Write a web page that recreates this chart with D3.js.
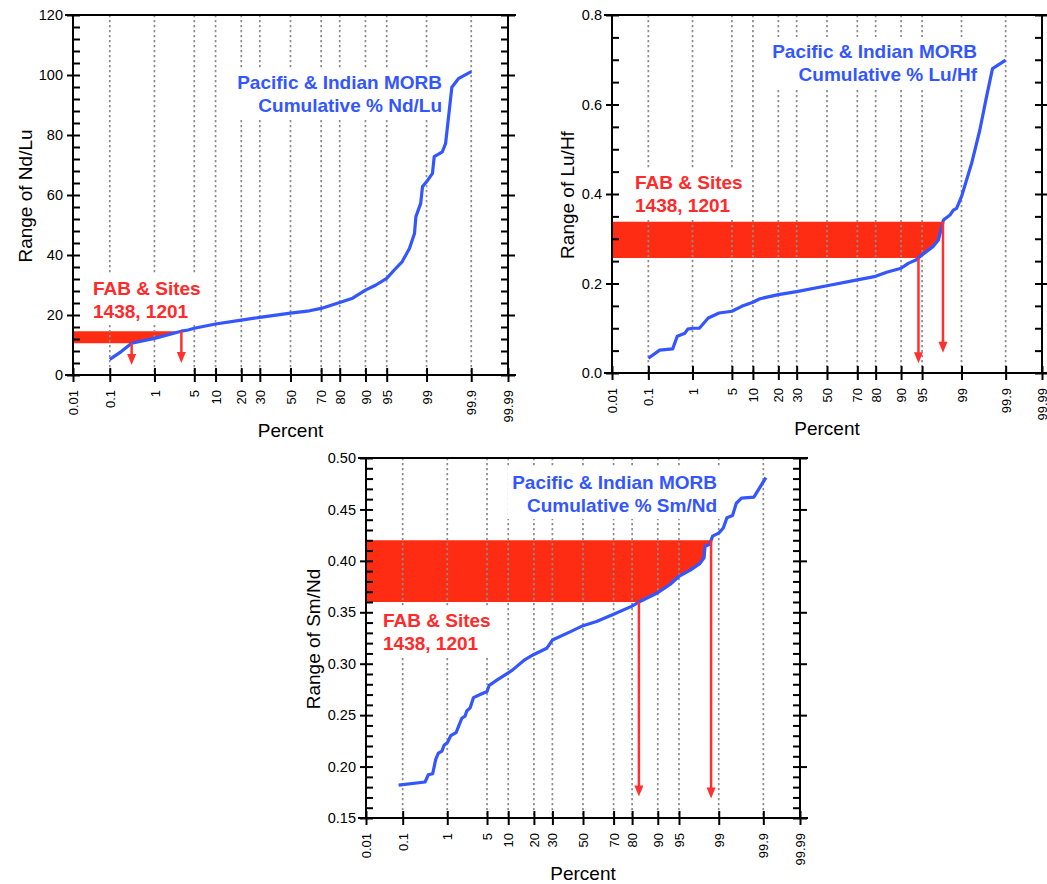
<!DOCTYPE html>
<html lang="en">
<head>
<meta charset="UTF-8">
<title>MORB cumulative probability plots</title>
<script src="https://d3js.org/d3.v7.min.js"></script>
<style>
  body { margin: 0; background: #fff; }
  svg text { font-family: "Liberation Sans", Arial, Helvetica, sans-serif; }
</style>
</head>
<body>
<svg width="1047" height="884"></svg>
<script>
// probability axis ticks (percent)
const percentTicks = [0.01, 0.1, 1, 5, 10, 20, 30, 50, 70, 80, 90, 95, 99, 99.9, 99.99];
const gridPercents = [0.1, 1, 5, 10, 20, 30, 50, 70, 80, 90, 95, 99, 99.9];

// Nd/Lu cumulative curve
const ndluPct = [0.1, 0.19, 0.33, 1, 3.1, 4, 5, 10, 20, 30, 50, 62.7, 70, 80, 85.6, 90, 92.8, 95, 96.2, 97.2,
                 97.9, 98.3, 98.4, 98.7, 98.8, 99, 99.24, 99.3, 99.53, 99.6, 99.71, 99.8, 99.9];
const ndluVal = [5.2, 7.8, 10.6, 12.2, 14.6, 15, 15.6, 17, 18.3, 19.2, 20.6, 21.4, 22.2, 24.2, 25.6, 28.3, 30, 32.2, 35, 37.8,
                 42.2, 47.2, 52.8, 57.2, 62.8, 64.4, 67.2, 72.8, 74.4, 77.2, 95.9, 98.9, 101.1];
const ndluBand = [10.6, 14.6];
const ndluArrowEnd = [3.3, 4.0];

// Lu/Hf cumulative curve
const luhfPct = [0.1, 0.19, 0.38, 0.48, 0.7, 0.8, 1, 1.36, 2, 3.1, 5, 7, 10, 12.3, 20, 30, 50, 70, 80, 84.9,
                 90, 92, 93.9, 95, 96.7, 97.3, 97.8, 98.33, 98.56, 98.75, 99, 99.38, 99.59, 99.71, 99.79, 99.9];
const luhfVal = [0.033, 0.051, 0.054, 0.082, 0.089, 0.098, 0.100, 0.100, 0.123, 0.134, 0.138, 0.149, 0.158, 0.166, 0.175, 0.182, 0.195, 0.208, 0.216, 0.225,
                 0.234, 0.245, 0.253, 0.264, 0.283, 0.297, 0.342, 0.353, 0.364, 0.368, 0.394, 0.468, 0.543, 0.617, 0.680, 0.699];
const luhfBand = [0.257, 0.338];
const luhfArrowEnd = [0.022, 0.045];

// Sm/Nd cumulative curve
const smndPct = [0.079, 0.34, 0.40, 0.50, 0.58, 0.66, 0.78, 0.87, 1, 1.17, 1.48, 1.89, 2.16, 2.32, 2.65, 3.02, 3.9, 5, 5.4, 7,
                 10, 11.4, 16, 20, 26.7, 30, 41.2, 50, 59.2, 70, 80, 83.1, 90, 93.2, 95, 96.7, 97.7, 98.1, 98.17, 98.5,
                 98.68, 99, 99.19, 99.32, 99.48, 99.57, 99.67, 99.83, 99.914];
const smndVal = [0.182, 0.185, 0.192, 0.193, 0.207, 0.213, 0.215, 0.221, 0.223, 0.230, 0.233, 0.247, 0.249, 0.254, 0.257, 0.267, 0.270, 0.273, 0.279, 0.284,
                 0.291, 0.294, 0.304, 0.309, 0.315, 0.323, 0.331, 0.337, 0.341, 0.348, 0.356, 0.360, 0.369, 0.377, 0.385, 0.391, 0.397, 0.403, 0.414, 0.416,
                 0.424, 0.427, 0.432, 0.442, 0.444, 0.456, 0.461, 0.462, 0.481];
const smndBand = [0.36, 0.42];
const smndArrowEnd = [0.171, 0.169];

const morbLine = "Pacific & Indian MORB";
const fabLines = ["FAB & Sites", "1438, 1201"];

const BLUE = "#3356ff", RED = "#ff2c14", ARROW = "#ff3030";

// inverse normal CDF (Acklam)
function probit(p) {
  const a = [-3.969683028665376e+01, 2.209460984245205e+02, -2.759285104469687e+02, 1.383577518672690e+02, -3.066479806614716e+01, 2.506628277459239e+00];
  const b = [-5.447609879822406e+01, 1.615858368580409e+02, -1.556989798598866e+02, 6.680131188771972e+01, -1.328068155288572e+01];
  const c = [-7.784894002430293e-03, -3.223964580411365e-01, -2.400758277161838e+00, -2.549732539343734e+00, 4.374664141464968e+00, 2.938163982698783e+00];
  const d = [7.784695709041462e-03, 3.224671290700398e-01, 2.445134137142996e+00, 3.754408661907416e+00];
  const pl = 0.02425;
  let q, r;
  if (p < pl) {
    q = Math.sqrt(-2 * Math.log(p));
    return (((((c[0]*q+c[1])*q+c[2])*q+c[3])*q+c[4])*q+c[5]) / ((((d[0]*q+d[1])*q+d[2])*q+d[3])*q+1);
  }
  if (p > 1 - pl) {
    q = Math.sqrt(-2 * Math.log(1 - p));
    return -(((((c[0]*q+c[1])*q+c[2])*q+c[3])*q+c[4])*q+c[5]) / ((((d[0]*q+d[1])*q+d[2])*q+d[3])*q+1);
  }
  q = p - 0.5; r = q * q;
  return (((((a[0]*r+a[1])*r+a[2])*r+a[3])*r+a[4])*r+a[5])*q / (((((b[0]*r+b[1])*r+b[2])*r+b[3])*r+b[4])*r+1);
}
const zOf = pct => probit(pct / 100);

const panels = [
  { left: 73, right: 508, top: 15, bottom: 375, yDomain: [0, 120], major: 20, minor: 4, fmt: d3.format("d"),
    yLabel: "Range of Nd/Lu", ratio: "Nd/Lu", pct: ndluPct, val: ndluVal, band: ndluBand, arrowEnd: ndluArrowEnd,
    blueX: 442, blueY: 89, redX: 93, redY: 295, yTitleX: 25, xTitleY: 430 },
  { left: 612, right: 1042, top: 15, bottom: 373, yDomain: [0, 0.8], major: 0.2, minor: 0.05, fmt: d3.format(".1f"),
    yLabel: "Range of Lu/Hf", ratio: "Lu/Hf", pct: luhfPct, val: luhfVal, band: luhfBand, arrowEnd: luhfArrowEnd,
    blueX: 977, blueY: 58, redX: 635, redY: 189, yTitleX: 567, xTitleY: 428 },
  { left: 366, right: 800, top: 458, bottom: 818, yDomain: [0.15, 0.5], major: 0.05, minor: 0.01, fmt: d3.format(".2f"),
    yLabel: "Range of Sm/Nd", ratio: "Sm/Nd", pct: smndPct, val: smndVal, band: smndBand, arrowEnd: smndArrowEnd,
    blueX: 717, blueY: 489, redX: 383, redY: 627, yTitleX: 313, xTitleY: 873 }
];

const svg = d3.select("svg");

function steps(domain, step) {
  const n = Math.round((domain[1] - domain[0]) / step);
  return d3.range(n + 1).map(i => +(domain[0] + i * step).toFixed(4));
}

function crossing(pcts, vals, level) {
  for (let i = 1; i < vals.length; i++) {
    const v0 = vals[i - 1], v1 = vals[i];
    if ((v0 - level) * (v1 - level) <= 0 && v1 !== v0) {
      const t = (level - v0) / (v1 - v0);
      const z0 = zOf(pcts[i - 1]), z1 = zOf(pcts[i]);
      return { z: z0 + t * (z1 - z0), i };
    }
  }
  return null;
}

function boxedText(g, x, y, lines, color, anchor) {
  const box = g.append("rect").attr("fill", "#fff");
  const t = g.append("text")
    .attr("x", x).attr("y", y)
    .attr("text-anchor", anchor)
    .attr("fill", color)
    .style("font-size", "19px")
    .style("font-weight", "bold");
  lines.forEach((s, i) => t.append("tspan").attr("x", x).attr("dy", i === 0 ? 0 : 23).text(s));
  const bb = t.node().getBBox();
  box.attr("x", bb.x - 5).attr("y", bb.y - 4).attr("width", bb.width + 10).attr("height", bb.height + 7);
}

panels.forEach(P => {
  const g = svg.append("g");
  const zDom = [zOf(0.01), zOf(99.99)];
  const xz = d3.scaleLinear().domain(zDom).range([P.left, P.right]);
  const x = pct => xz(zOf(pct));
  const y = d3.scaleLinear().domain(P.yDomain).range([P.bottom, P.top]);

  // red band, bounded on the right by the curve
  const lo = crossing(P.pct, P.val, P.band[0]);
  const hi = crossing(P.pct, P.val, P.band[1]);
  const pts = [[P.left, y(P.band[0])], [xz(lo.z), y(P.band[0])]];
  for (let i = lo.i; i < hi.i; i++) pts.push([x(P.pct[i]), y(P.val[i])]);
  pts.push([xz(hi.z), y(P.band[1])], [P.left, y(P.band[1])]);
  g.append("path")
    .attr("d", d3.line()(pts) + "Z")
    .attr("fill", RED);

  // dotted vertical gridlines
  g.selectAll(".grid").data(gridPercents).enter().append("line")
    .attr("x1", d => x(d)).attr("x2", d => x(d))
    .attr("y1", P.top).attr("y2", P.bottom)
    .attr("stroke", "#8c8c8c").attr("stroke-width", 1.7)
    .attr("stroke-dasharray", "2.2,2.8");

  // annotations
  boxedText(g, P.blueX, P.blueY, [morbLine, "Cumulative % " + P.ratio], BLUE, "end");
  boxedText(g, P.redX, P.redY, fabLines, "#ff2a2a", "start");

  // cumulative curve
  g.append("path")
    .datum(P.pct.map((p, i) => ({ p, v: P.val[i] })))
    .attr("d", d3.line().x(d => x(d.p)).y(d => y(d.v)))
    .attr("fill", "none")
    .attr("stroke", BLUE)
    .attr("stroke-width", 3.2)
    .attr("stroke-linejoin", "round");

  // arrows down to the percent axis
  [[lo, P.band[0], P.arrowEnd[0]], [hi, P.band[1], P.arrowEnd[1]]].forEach(([c, from, to]) => {
    const ax = xz(c.z), tip = y(to);
    g.append("line")
      .attr("x1", ax).attr("x2", ax)
      .attr("y1", y(from)).attr("y2", tip - 8)
      .attr("stroke", ARROW).attr("stroke-width", 2.5);
    g.append("path")
      .attr("d", `M${ax - 4.5},${tip - 11}L${ax + 4.5},${tip - 11}L${ax},${tip}Z`)
      .attr("fill", ARROW);
  });

  const majors = steps(P.yDomain, P.major);
  const all = steps(P.yDomain, P.minor);

  // left axis: labelled outer ticks + inner ticks
  const gl = g.append("g").attr("transform", `translate(${P.left},0)`)
    .call(d3.axisLeft(y).tickValues(majors).tickSize(6).tickPadding(4).tickFormat(P.fmt));
  gl.selectAll("text").style("font-size", "14.5px").attr("fill", "#000");
  g.append("g").attr("transform", `translate(${P.left},0)`)
    .call(d3.axisRight(y).tickValues(all).tickSize(7).tickFormat(""));

  // right axis
  g.append("g").attr("transform", `translate(${P.right},0)`)
    .call(d3.axisLeft(y).tickValues(all).tickSize(7).tickFormat(""));
  g.append("g").attr("transform", `translate(${P.right},0)`)
    .call(d3.axisRight(y).tickValues(majors).tickSize(7).tickFormat(""));

  // bottom percent axis
  const gb = g.append("g").attr("transform", `translate(0,${P.bottom})`)
    .call(d3.axisBottom(xz).tickValues(percentTicks.map(zOf)).tickSize(7)
      .tickFormat((d, i) => String(percentTicks[i])));
  gb.selectAll("text")
    .style("font-size", "13px").attr("fill", "#000")
    .attr("transform", "rotate(-90)")
    .attr("text-anchor", "end")
    .attr("x", -15).attr("y", 0).attr("dy", "0.35em");
  g.append("g").attr("transform", `translate(0,${P.bottom})`)
    .call(d3.axisTop(xz).tickValues(percentTicks.map(zOf)).tickSize(7).tickFormat(""));

  g.selectAll(".domain").remove();
  g.selectAll(".tick line").attr("stroke", "#000").attr("stroke-width", 2);

  // frame
  const frame = [
    [P.left - 7, P.top, P.right + 7, P.top],
    [P.left - 7, P.bottom, P.right + 7, P.bottom],
    [P.left, P.top, P.left, P.bottom],
    [P.right, P.top, P.right, P.bottom]
  ];
  g.selectAll(".frame").data(frame).enter().append("line")
    .attr("x1", d => d[0]).attr("y1", d => d[1]).attr("x2", d => d[2]).attr("y2", d => d[3])
    .attr("stroke", "#000").attr("stroke-width", 2).attr("stroke-linecap", "square");

  // axis titles
  g.append("text")
    .attr("transform", `translate(${P.yTitleX},${(P.top + P.bottom) / 2 + 1}) rotate(-90)`)
    .attr("text-anchor", "middle").attr("dy", "0.35em")
    .style("font-size", "19px")
    .text(P.yLabel);
  g.append("text")
    .attr("x", (P.left + P.right) / 2).attr("y", P.xTitleY)
    .attr("text-anchor", "middle").attr("dy", "0.35em")
    .style("font-size", "19px")
    .text("Percent");
});
</script>
</body>
</html>
